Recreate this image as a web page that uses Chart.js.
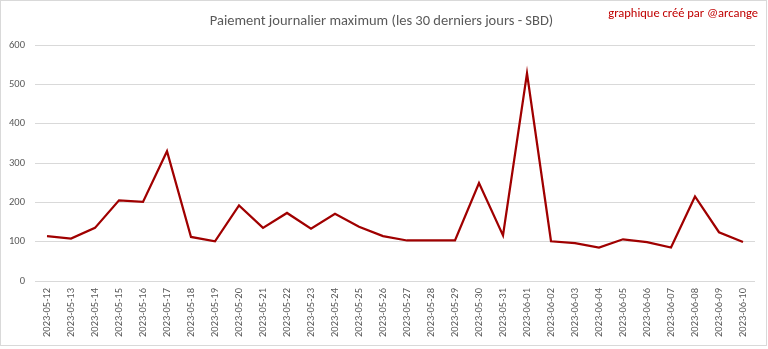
<!DOCTYPE html>
<html>
<head>
<meta charset="utf-8">
<script src="https://cdn.jsdelivr.net/npm/chart.js@4"></script>
<style>
  html, body { margin: 0; padding: 0; background: #fff; }
  #wrap { position: absolute; left: 0; top: 0; width: 768px; height: 349px; }
</style>
</head>
<body>
<div id="wrap"><canvas id="chart"></canvas></div>
<script>
// =====================
// DATA
// =====================
const dates = [
  '2023-05-12','2023-05-13','2023-05-14','2023-05-15','2023-05-16','2023-05-17',
  '2023-05-18','2023-05-19','2023-05-20','2023-05-21','2023-05-22','2023-05-23',
  '2023-05-24','2023-05-25','2023-05-26','2023-05-27','2023-05-28','2023-05-29',
  '2023-05-30','2023-05-31','2023-06-01','2023-06-02','2023-06-03','2023-06-04',
  '2023-06-05','2023-06-06','2023-06-07','2023-06-08','2023-06-09','2023-06-10'
];
const maxPayout = [
  114, 108, 135, 205, 201, 330,
  112, 101, 192, 135, 173, 133,
  171, 138, 114, 103, 103, 103,
  249, 116, 528, 101, 96, 85,
  106, 99, 85, 215, 124, 99
];
const yTicks = [0, 100, 200, 300, 400, 500, 600];

const titleText = 'Paiement journalier maximum (les 30 derniers jours - SBD)';
const creditText = 'graphique créé par @arcange';

const FONT = 'Calibri, Carlito, Lato, "Open Sans", sans-serif';

// =====================
// FRAME + CREDIT
// =====================
const decorPlugin = {
  id: 'decor',
  afterDraw(chart) {
    const ctx = chart.ctx;
    ctx.save();
    ctx.strokeStyle = '#d9d9d9';
    ctx.lineWidth = 1;
    ctx.strokeRect(0.5, 0.5, 766, 345);

    ctx.fillStyle = '#c00000';
    ctx.font = '12.5px ' + FONT;
    ctx.textAlign = 'right';
    ctx.textBaseline = 'middle';
    ctx.fillText(creditText, 758, 14);
    ctx.restore();
  }
};

// =====================
// CHART
// =====================
new Chart(document.getElementById('chart'), {
  type: 'line',
  data: {
    labels: dates,
    datasets: [{
      label: 'SBD',
      data: maxPayout,
      borderColor: '#a00000',
      borderWidth: 2.25,
      pointRadius: 0,
      tension: 0,
      fill: false
    }]
  },
  options: {
    responsive: true,
    maintainAspectRatio: false,
    animation: false,
    layout: { padding: { left: 8, right: 13, top: 4, bottom: 8 } },
    plugins: {
      legend: { display: false },
      tooltip: { enabled: false },
      title: {
        display: true,
        text: titleText,
        color: '#595959',
        font: { family: FONT, size: 14.5, weight: 'normal' },
        padding: { top: 8.2, bottom: 15.4 }
      }
    },
    scales: {
      x: {
        offset: true,
        grid: { display: false, drawTicks: false },
        border: { display: false },
        afterFit: scale => { scale.height = 60; },
        ticks: {
          color: '#595959',
          font: { family: FONT, size: 10.5 },
          minRotation: 90,
          maxRotation: 90,
          autoSkip: false,
          padding: 7
        }
      },
      y: {
        min: 0,
        max: 600,
        afterBuildTicks: scale => { scale.ticks = yTicks.map(v => ({ value: v })); },
        afterFit: scale => { scale.width = 27; },
        grid: { color: '#d9d9d9', drawTicks: false, lineWidth: 1 },
        border: { display: false },
        ticks: {
          color: '#595959',
          font: { family: FONT, size: 10.5 },
          padding: 10
        }
      }
    }
  },
  plugins: [decorPlugin]
});
</script>
</body>
</html>
